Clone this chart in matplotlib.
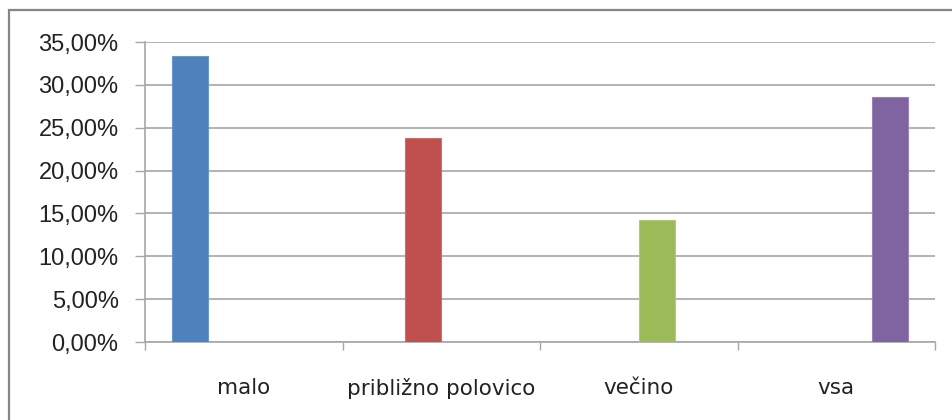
import numpy as np
import matplotlib
matplotlib.use("Agg")
import matplotlib.pyplot as plt
from matplotlib.patches import Rectangle
from matplotlib.ticker import FuncFormatter, MultipleLocator

categories = ["malo", "približno polovico", "večino", "vsa"]
values = [33.33, 23.81, 14.29, 28.57]
colors = ["#4F81BD", "#C0504D", "#9BBB59", "#8064A2"]
edges = ["#6A96CB", "#CD6F6C", "#B0CC78", "#9A82B8"]

W, H = 952, 420
fig = plt.figure(figsize=(W / 100, H / 100), dpi=100)
fig.patches.append(Rectangle((9 / W, -0.1), 1.2, (H - 10) / H + 0.1,
                             transform=fig.transFigure, fill=False,
                             edgecolor="#868686", linewidth=1.6))
ax = fig.add_axes([145 / W, (H - 342) / H, (935 - 145) / W, 300 / H])

gridc = "#A6A6A6"
n = len(categories)
bw = 0.182
x = np.arange(n)
for j in range(n):
    # one series per category, placed at its slot in the cluster
    ax.bar(x[j] + (j - 1.5) * bw, values[j], width=bw, color=colors[j],
           edgecolor=edges[j], linewidth=0.8, zorder=3)

ax.set_xlim(-0.5, n - 0.5)
ax.set_ylim(0, 35)
ax.yaxis.set_major_locator(MultipleLocator(5))
ax.yaxis.set_major_formatter(FuncFormatter(lambda v, p: f"{v:.2f}%".replace(".", ",")))
ax.grid(axis="y", color=gridc, linewidth=1.2, zorder=0)
ax.set_axisbelow(True)

ax.set_xticks(x)
ax.set_xticklabels(categories, family="DejaVu Sans", fontsize=15.5, color="#222222")
ax.set_xticks(np.arange(n + 1) - 0.5, minor=True)
ax.tick_params(axis="x", which="major", length=0, pad=26)
ax.tick_params(axis="x", which="minor", length=6, color=gridc, width=1)
ax.tick_params(axis="y", length=7, color=gridc, width=1, pad=12,
               labelsize=17, labelcolor="#222222")
for lab in ax.get_yticklabels():
    lab.set_family(["Liberation Sans", "DejaVu Sans"])

for s in ("top", "right"):
    ax.spines[s].set_visible(False)
for s in ("left", "bottom"):
    ax.spines[s].set_color(gridc)
    ax.spines[s].set_linewidth(1.2)

fig.savefig("out.png", dpi=100)
